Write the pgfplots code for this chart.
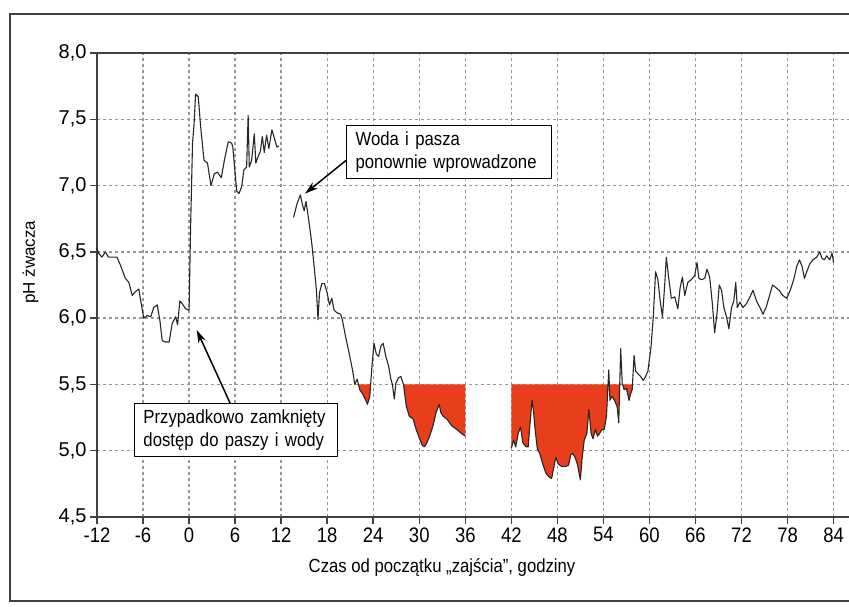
\documentclass[border=0pt]{standalone}
\usepackage{pgfplots}
\pgfplotsset{compat=1.18}
\usepackage{fontspec}
\setmainfont{Liberation Sans}
\newfontfamily\cond{Liberation Sans}[FakeStretch=0.88]
\usetikzlibrary{arrows.meta}
\definecolor{fillred}{RGB}{232,62,28}
\definecolor{gridgray}{RGB}{150,150,150}

\pgfplotstableread{
x y
-12 6.53
-11.8 6.49
-11.35 6.46
-10.9 6.50
-10.5 6.46
-9.4 6.46
-8.95 6.40
-8.3 6.30
-7.85 6.27
-7.4 6.17
-7.0 6.20
-6.55 6.22
-6.3 6.13
-5.9 6.00
-5.45 6.02
-5.0 6.01
-4.6 6.08
-4.15 6.10
-3.8 5.98
-3.5 5.83
-3.05 5.82
-2.6 5.82
-2.2 5.96
-1.75 6.01
-1.5 5.95
-1.2 6.13
-0.9 6.11
-0.45 6.07
0.0 6.06
0.2 6.69
0.45 7.32
0.65 7.46
0.85 7.69
1.2 7.67
1.5 7.45
1.95 7.19
2.4 7.17
2.85 7.00
3.3 7.09
3.7 7.10
4.2 7.06
4.6 7.19
5.1 7.33
5.55 7.32
5.7 7.29
6.2 6.96
6.5 6.94
6.85 6.99
7.15 7.12
7.5 7.14
7.7 7.53
7.85 7.14
8.15 7.19
8.5 7.39
8.7 7.17
9.0 7.22
9.3 7.26
9.55 7.37
9.8 7.25
10.1 7.38
10.4 7.28
10.8 7.42
11.15 7.35
11.45 7.29
11.7 7.30
nan nan
13.62 6.76
14.06 6.86
14.5 6.93
14.8 6.85
15.0 6.81
15.24 6.88
15.6 6.74
16.0 6.56
16.3 6.39
16.6 6.21
16.8 5.99
17.0 6.19
17.3 6.26
17.65 6.26
18.0 6.19
18.3 6.10
18.6 6.15
18.9 6.06
19.3 6.04
19.75 6.03
19.97 5.99
20.4 5.86
20.85 5.74
21.3 5.61
21.6 5.50
21.9 5.54
22.25 5.46
22.6 5.43
22.95 5.39
23.25 5.35
23.55 5.41
23.8 5.61
24.1 5.81
24.4 5.73
24.7 5.71
25.0 5.79
25.3 5.81
25.65 5.71
26.0 5.64
26.3 5.54
26.5 5.50
26.75 5.39
26.95 5.51
27.3 5.55
27.6 5.56
27.95 5.50
28.3 5.34
28.7 5.26
29.2 5.24
29.6 5.16
30.05 5.09
30.4 5.04
30.7 5.03
31.0 5.06
31.35 5.11
31.8 5.19
32.2 5.29
32.6 5.35
32.8 5.29
33.1 5.26
33.6 5.24
34.2 5.19
34.9 5.16
35.5 5.13
36.0 5.11
nan nan
42.0 5.02
42.3 5.08
42.57 5.03
42.9 5.13
43.2 5.18
43.5 5.06
43.9 5.03
44.2 5.03
44.4 5.18
44.7 5.38
44.85 5.32
45.1 5.16
45.4 5.01
45.7 4.98
46.1 4.90
46.5 4.83
46.95 4.80
47.25 4.79
47.55 4.88
47.8 4.95
48.1 4.90
48.6 4.88
49.0 4.88
49.45 4.89
49.75 4.97
50.0 4.98
50.3 4.95
50.6 4.90
51.0 4.78
51.2 4.93
51.5 5.08
51.85 5.13
52.1 5.31
52.4 5.13
52.65 5.09
52.95 5.16
53.25 5.11
53.5 5.13
53.8 5.16
54.1 5.16
54.4 5.26
54.7 5.61
54.85 5.38
55.1 5.41
55.45 5.38
55.8 5.33
56.0 5.21
56.25 5.77
56.45 5.51
56.7 5.46
57.0 5.47
57.35 5.38
57.55 5.43
57.75 5.46
58.0 5.72
58.2 5.60
58.5 5.58
58.85 5.56
59.2 5.53
59.5 5.56
59.8 5.60
60.2 5.78
60.5 6.01
60.8 6.35
61.1 6.29
61.4 6.13
61.7 6.01
62.0 6.26
62.2 6.46
62.5 6.31
62.85 6.15
63.3 6.16
63.7 6.07
64.0 6.23
64.3 6.31
64.6 6.17
65.0 6.27
65.45 6.29
65.9 6.32
66.2 6.42
66.45 6.30
66.75 6.29
67.2 6.30
67.5 6.37
67.85 6.31
68.2 6.11
68.5 5.89
68.8 6.03
69.1 6.25
69.4 6.21
69.7 6.08
70.05 6.01
70.35 5.92
70.7 6.08
71.0 6.13
71.25 6.27
71.45 6.08
71.8 6.12
72.2 6.08
72.65 6.11
73.1 6.16
73.5 6.21
73.95 6.13
74.4 6.08
74.8 6.03
75.2 6.08
75.6 6.16
76.05 6.25
76.5 6.23
76.9 6.21
77.4 6.17
77.9 6.15
78.35 6.21
78.8 6.29
79.2 6.39
79.55 6.44
79.9 6.39
80.2 6.30
80.5 6.35
80.9 6.41
81.3 6.44
81.8 6.46
82.2 6.50
82.5 6.45
82.8 6.44
83.1 6.47
83.5 6.44
83.8 6.49
84.0 6.42
}\phdata

\begin{document}
\begin{tikzpicture}
\begin{axis}[
  scale only axis, width=755pt, height=464pt,
  at={(0,0)}, anchor=south west,
  xmin=-12, xmax=86.4, ymin=4.5, ymax=8,
  xtick={-12,-6,0,6,12,18,24,30,36,42,48,54,60,66,72,78,84},
  ytick={4.5,5,5.5,6,6.5,7,7.5,8},
  grid=major,
  major grid style={gridgray, line width=1.3pt, dash pattern=on 3pt off 3pt},
  axis line style={black!75, line width=1.8pt},
  tick style={black!75, line width=1.5pt},
  major tick length=7pt,
  tick align=outside, tick pos=left,
  /pgf/number format/assume math mode=true,
  yticklabel style={font=\fontsize{20}{20}\selectfont,
    /pgf/number format/fixed, /pgf/number format/fixed zerofill,
    /pgf/number format/precision=1, /pgf/number format/use comma},
  xticklabel style={font=\cond\fontsize{21}{21}\selectfont},
  xlabel={Czas od początku „zajścia”, godziny},
  xlabel style={font=\cond\fontsize{19}{19}\selectfont, at={(axis description cs:0.457,0)}, anchor=center, yshift=-50pt},
  ylabel={pH żwacza},
  ylabel style={font=\fontsize{17}{17}\selectfont, at={(axis description cs:-0.088,0.549)}, anchor=center},
  clip=false,
  unbounded coords=jump,
]
% red areas below pH 5.5
\addplot[fill=fillred, draw=none] coordinates {
 (21.6,5.5) (22.07,5.5) (22.25,5.46) (22.6,5.43) (22.95,5.39) (23.25,5.35) (23.55,5.41) (23.66,5.5)};
\addplot[fill=fillred, draw=none] coordinates {
 (27.95,5.5) (28.3,5.34) (28.7,5.26) (29.2,5.24) (29.6,5.16) (30.05,5.09) (30.4,5.04) (30.7,5.03) (31.0,5.06) (31.35,5.11) (31.8,5.19) (32.2,5.29) (32.6,5.35) (32.8,5.29) (33.1,5.26) (33.6,5.24) (34.2,5.19) (34.9,5.16) (35.5,5.13) (36.0,5.11) (36.0,5.5)};
\addplot[fill=fillred, draw=none] coordinates {
 (42,5.5) (42,5.02) (42.3,5.08) (42.57,5.03) (42.9,5.13) (43.2,5.18) (43.5,5.06) (43.9,5.03) (44.2,5.03) (44.4,5.18) (44.7,5.38) (44.85,5.32) (45.1,5.16) (45.4,5.01) (45.7,4.98) (46.1,4.90) (46.5,4.83) (46.95,4.80) (47.25,4.79) (47.55,4.88) (47.8,4.95) (48.1,4.90) (48.6,4.88) (49.0,4.88) (49.45,4.89) (49.75,4.97) (50.0,4.98) (50.3,4.95) (50.6,4.90) (51.0,4.78) (51.2,4.93) (51.5,5.08) (51.85,5.13) (52.1,5.31) (52.4,5.13) (52.65,5.09) (52.95,5.16) (53.25,5.11) (53.5,5.13) (53.8,5.16) (54.1,5.16) (54.4,5.26) (54.6,5.5) (54.77,5.5) (54.85,5.38) (55.1,5.41) (55.45,5.38) (55.8,5.33) (56.0,5.21) (56.13,5.5) (56.5,5.5) (56.7,5.46) (57.0,5.47) (57.35,5.38) (57.55,5.43) (57.75,5.46) (57.79,5.5)};
% pH curve
\addplot[black!85, line width=1.1pt, line join=round] table[x=x, y=y] {\phdata};
% annotations
\node[draw=black, line width=1pt, fill=white, anchor=north west, text width=185pt,
  inner xsep=9pt, inner ysep=0pt, minimum height=53pt, align=left,
  font=\cond\fontsize{19}{23}\selectfont] at (axis cs:-7.18,5.36)
  {Przypadkowo zamknięty\\dostęp do paszy i wody};
\node[draw=black, line width=1pt, fill=white, anchor=north west, text width=187pt,
  inner xsep=9pt, inner ysep=0pt, minimum height=53pt, align=left,
  font=\cond\fontsize{19}{23}\selectfont] at (axis cs:20.46,7.457)
  {Woda i pasza\\ponownie wprowadzone};
\draw[black, line width=1.5pt, -{Stealth[length=13pt, width=8pt]}] (axis cs:5.34,5.36) -- (axis cs:1.0,5.91);
\draw[black, line width=1.5pt, -{Stealth[length=13pt, width=8pt]}] (axis cs:20.46,7.19) -- (axis cs:15.12,6.94);
\end{axis}
\draw[black!75, line width=1.2pt] (-87pt,-84pt) rectangle (775pt,503pt);
\pgfresetboundingbox
\useasboundingbox (-97pt,-89pt) rectangle (752pt,517pt);
\end{tikzpicture}
\end{document}
